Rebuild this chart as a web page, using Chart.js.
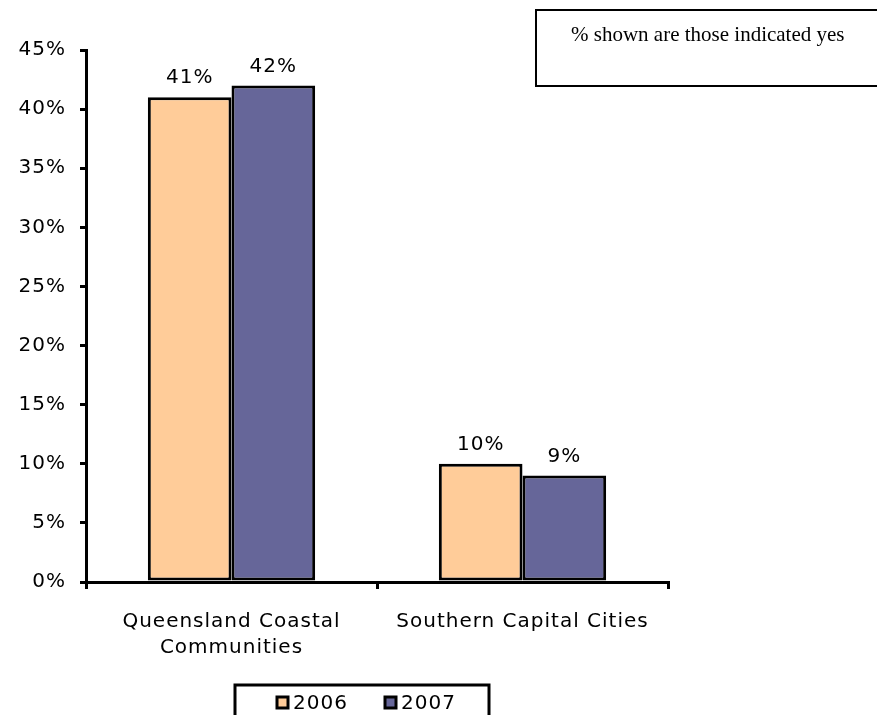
<!DOCTYPE html>
<html>
<head>
<meta charset="utf-8">
<script src="https://cdn.jsdelivr.net/npm/chart.js@4"></script>
<style>
  body { margin: 0; background: #fff; }
  #wrap { position: relative; width: 877px; height: 715px; overflow: hidden; }
  #note {
    position: absolute; left: 535px; top: 9px; width: 350px; height: 78px;
    border: 2px solid #000; box-sizing: border-box;
    font-family: "Liberation Serif", "Times New Roman", serif; font-size: 21px;
    padding: 11px 0 0 34px; color: #000; white-space: nowrap;
  }
</style>
</head>
<body>
<div id="wrap">
  <canvas id="chart"></canvas>
  <div id="note">% shown are those indicated yes</div>
</div>
<script>
// data
const categories = [['Queensland Coastal', 'Communities'], 'Southern Capital Cities'];
const years = ['2006', '2007'];
const values2006 = [41, 10];
const values2007 = [42, 9];
const colors = ['#FFCC99', '#666699'];
const yMax = 45;
const yStep = 5;

const font = { family: 'DejaVu Sans', size: 20, lineHeight: 1.3 };

// wider letter spacing like the original
const spacing = {
  id: 'spacing',
  beforeUpdate(chart) { chart.ctx.letterSpacing = '1px'; },
  beforeDraw(chart) { chart.ctx.letterSpacing = '1px'; }
};

// value labels above each bar
const valueLabels = {
  id: 'valueLabels',
  afterDatasetsDraw(chart) {
    const ctx = chart.ctx;
    ctx.save();
    ctx.font = font.size + 'px ' + font.family;
    ctx.fillStyle = '#000';
    ctx.textAlign = 'center';
    ctx.textBaseline = 'bottom';
    chart.data.datasets.forEach((ds, i) => {
      chart.getDatasetMeta(i).data.forEach((bar, j) => {
        ctx.fillText(ds.data[j] + '%', bar.x, bar.y - 9);
      });
    });
    ctx.restore();
  }
};

// boxed legend at the bottom
const boxLegend = {
  id: 'boxLegend',
  afterDraw(chart) {
    const ctx = chart.ctx;
    ctx.save();
    ctx.lineWidth = 3;
    ctx.strokeStyle = '#000';
    ctx.strokeRect(235, 685, 254, 45);
    ctx.font = font.size + 'px ' + font.family;
    ctx.textBaseline = 'middle';
    ctx.textAlign = 'left';
    const starts = [277, 385];
    chart.data.datasets.forEach((ds, i) => {
      const x = starts[i];
      ctx.fillStyle = ds.backgroundColor;
      ctx.lineWidth = 3;
      ctx.fillRect(x, 697, 11, 11);
      ctx.strokeRect(x, 697, 11, 11);
      ctx.fillStyle = '#000';
      ctx.fillText(ds.label, x + 16, 704);
    });
    ctx.restore();
  }
};

new Chart(document.getElementById('chart'), {
  type: 'bar',
  data: {
    labels: categories,
    datasets: [
      { label: years[0], data: values2006, backgroundColor: colors[0] },
      { label: years[1], data: values2007, backgroundColor: colors[1] }
    ]
  },
  options: {
    responsive: true,
    maintainAspectRatio: false,
    animation: false,
    layout: { padding: { top: 50, right: 209, left: 0, bottom: 0 } },
    datasets: {
      bar: {
        categoryPercentage: 0.575,
        barPercentage: 1,
        borderColor: '#000',
        borderWidth: 3,
        borderSkipped: false
      }
    },
    plugins: {
      legend: { display: false },
      tooltip: { enabled: false }
    },
    scales: {
      x: {
        grid: { drawOnChartArea: false, color: '#000', lineWidth: 3, tickLength: 7 },
        border: { color: '#000', width: 3 },
        ticks: { color: '#000', font: font, padding: 20 },
        afterFit(s) { s.height = 133; }
      },
      y: {
        min: 0,
        max: yMax,
        ticks: { stepSize: yStep, color: '#000', font: font, padding: 14, callback: v => v + '%' },
        grid: { drawOnChartArea: false, color: '#000', lineWidth: 3, tickLength: 6 },
        border: { color: '#000', width: 3 },
        afterFit(s) { s.width = 86; }
      }
    }
  },
  plugins: [spacing, valueLabels, boxLegend]
});
</script>
</body>
</html>
